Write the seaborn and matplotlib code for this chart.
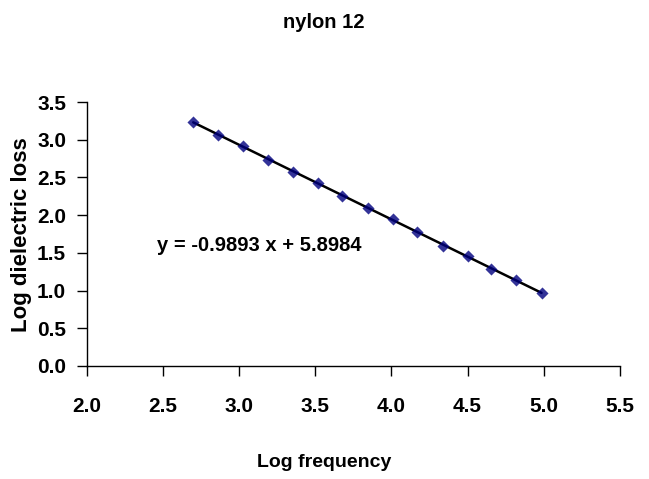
import matplotlib
matplotlib.use("Agg")
import matplotlib.pyplot as plt
import seaborn as sns
import numpy as np
import pandas as pd

log_freq = [2.698, 2.862, 3.027, 3.186, 3.353, 3.515, 3.677, 3.847, 4.011,
            4.171, 4.336, 4.500, 4.657, 4.821, 4.986]
log_loss = [3.239, 3.062, 2.921, 2.731, 2.576, 2.430, 2.254, 2.091, 1.949,
            1.780, 1.595, 1.458, 1.282, 1.140, 0.972]
x_ticks = [2.0, 2.5, 3.0, 3.5, 4.0, 4.5, 5.0, 5.5]
y_ticks = [0.0, 0.5, 1.0, 1.5, 2.0, 2.5, 3.0, 3.5]
title = "nylon 12"
xlabel = "Log frequency"
ylabel = "Log dielectric loss"
equation = "y = -0.9893 x + 5.8984"

sns.set_theme(style="white")
plt.rcParams['font.family'] = ['Liberation Sans', 'DejaVu Sans']
plt.rcParams['font.weight'] = 'bold'

df = pd.DataFrame({"x": log_freq, "y": log_loss})

fig = plt.figure(figsize=(6.49, 4.79), dpi=100)
ax = fig.add_axes([0.134, 0.236, 0.821, 0.551])

sns.regplot(data=df, x="x", y="y", ci=None, ax=ax,
            marker="D",
            scatter_kws=dict(color="#00007f", s=38, zorder=3, linewidths=0),
            line_kws=dict(color="black", lw=1.8, zorder=2))

ax.set_xlim(2.0, 5.5)
ax.set_ylim(0.0, 3.5)
ax.set_xticks(x_ticks)
ax.set_yticks(y_ticks)
ax.set_xticklabels([f"{t:.1f}" for t in x_ticks], fontsize=15, fontweight='bold')
ax.set_yticklabels([f"{t:.1f}" for t in y_ticks], fontsize=15, fontweight='bold')
for s in ["top", "right"]:
    ax.spines[s].set_visible(False)
for s in ["left", "bottom"]:
    ax.spines[s].set_color("black")
    ax.spines[s].set_linewidth(1.0)
ax.tick_params(axis="both", which="both", direction="out", length=7, width=1,
               color="black", labelcolor="black", bottom=True, left=True)
ax.tick_params(axis="x", pad=15)
ax.tick_params(axis="y", pad=8)

ax.set_xlabel(xlabel, fontsize=14, fontweight='bold', color="black")
ax.xaxis.set_label_coords(0.445, -0.364)
ax.set_ylabel(ylabel, fontsize=16, fontweight='bold', color="black")
ax.yaxis.set_label_coords(-0.122, 0.496)
for lab in (ax.xaxis.label, ax.yaxis.label):
    lab.set_verticalalignment("center")
fig.text(0.499, 0.954, title, ha="center", va="center", fontsize=14.5,
         fontweight='bold', color="black")
ax.text(2.46, 1.60, equation, ha="left", va="center", fontsize=14.5,
        fontweight='bold', color="black")

fig.savefig("out.png", dpi=100)
